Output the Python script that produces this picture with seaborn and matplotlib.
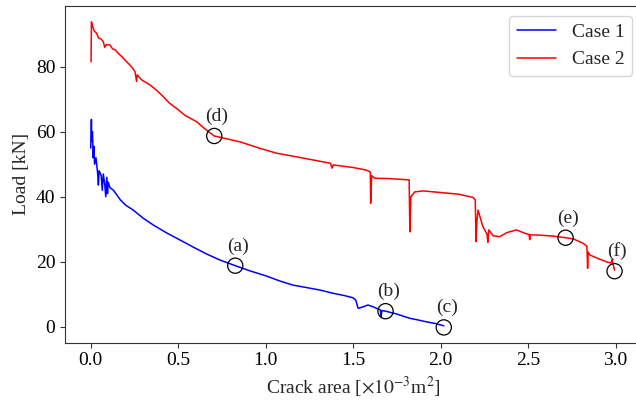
import matplotlib
matplotlib.use('Agg')
import matplotlib.pyplot as plt
import seaborn as sns

# data
case1_area = [0.000, 0.004, 0.006, 0.010, 0.014, 0.018, 0.022, 0.030, 0.040, 0.044, 0.048,
              0.060, 0.066, 0.072, 0.080, 0.086, 0.092, 0.096, 0.100, 0.110, 0.130, 0.170,
              0.200, 0.243, 0.300, 0.358, 0.430, 0.510, 0.590, 0.662, 0.740, 0.826, 0.910,
              1.005, 1.080, 1.157, 1.230, 1.310, 1.386, 1.450, 1.500, 1.515, 1.528, 1.550,
              1.585, 1.620, 1.655, 1.660, 1.664, 1.685, 1.750, 1.824, 1.870, 1.920, 1.970,
              2.018]
case1_load = [55.0, 63.8, 57.0, 60.0, 52.0, 55.5, 50.0, 52.0, 47.0, 43.6, 48.0,
              46.5, 42.0, 47.0, 44.0, 40.0, 46.0, 41.0, 44.5, 42.8, 42.0, 39.0,
              37.4, 35.9, 33.4, 31.3, 29.0, 26.7, 24.4, 22.4, 20.5, 18.8, 17.2,
              15.6, 14.1, 12.8, 12.1, 11.3, 10.3, 9.6, 8.9, 8.2, 5.7, 6.0,
              6.7, 6.0, 5.2, 3.1, 5.0, 4.8, 3.9, 2.6, 2.1, 1.5, 1.0,
              0.3]

case2_area = [0.002, 0.004, 0.012, 0.020, 0.034, 0.045, 0.060, 0.072, 0.080, 0.090, 0.110,
              0.125, 0.140, 0.158, 0.180, 0.206, 0.230, 0.240, 0.253, 0.262, 0.266, 0.290,
              0.339, 0.380, 0.415, 0.450, 0.490, 0.540, 0.605, 0.650, 0.706, 0.780, 0.853,
              0.967, 1.062, 1.195, 1.370, 1.380, 1.386, 1.500, 1.576, 1.598, 1.600, 1.606,
              1.624, 1.700, 1.820, 1.824, 1.830, 1.852, 1.900, 2.000, 2.100, 2.185, 2.198,
              2.202, 2.208, 2.214, 2.240, 2.265, 2.270, 2.275, 2.300, 2.337, 2.380, 2.433,
              2.480, 2.505, 2.509, 2.512, 2.560, 2.642, 2.714, 2.760, 2.813, 2.836, 2.840,
              2.843, 2.852, 2.900, 2.947, 2.975, 2.980, 2.985, 2.994]
case2_load = [81.5, 93.8, 92.3, 91.0, 90.3, 88.8, 88.5, 87.7, 86.0, 86.8, 86.7,
              85.5, 85.2, 84.1, 83.0, 81.5, 80.2, 79.5, 78.5, 75.5, 77.5, 76.0,
              74.4, 72.6, 70.8, 68.8, 67.2, 65.0, 63.1, 61.0, 58.7, 57.8, 56.9,
              54.9, 53.4, 52.1, 50.3, 48.8, 49.8, 49.0, 48.2, 47.6, 38.0, 46.5,
              45.7, 45.6, 45.2, 29.2, 40.0, 41.5, 41.8, 41.3, 40.8, 39.8, 39.0,
              26.2, 33.0, 35.9, 31.0, 28.5, 26.0, 29.8, 28.0, 27.7, 29.0, 29.8,
              28.8, 28.4, 26.8, 28.3, 28.2, 27.9, 27.4, 27.0, 25.7, 24.8, 18.0,
              23.0, 22.1, 21.0, 20.0, 19.6, 20.8, 19.3, 17.4]

# marked states (a)-(f)
mark_labels = ['(a)', '(b)', '(c)', '(d)', '(e)', '(f)']
mark_area = [0.826, 1.685, 2.018, 0.706, 2.714, 2.994]
mark_load = [18.8, 4.8, -0.2, 58.7, 27.4, 17.1]

sns.set_style('ticks')
plt.rcParams['font.family'] = ['Liberation Serif', 'DejaVu Serif']
plt.rcParams['mathtext.fontset'] = 'stix'
plt.rcParams['font.size'] = 14

fig = plt.figure(figsize=(6.36, 4.01), dpi=100)
ax = fig.add_axes([0.1022, 0.1454, 0.907, 0.8397])

sns.lineplot(x=case1_area, y=case1_load, color='blue', linewidth=1.1, label='Case 1',
             sort=False, estimator=None, ax=ax)
sns.lineplot(x=case2_area, y=case2_load, color='red', linewidth=1.1, label='Case 2',
             sort=False, estimator=None, ax=ax)

sns.scatterplot(x=mark_area, y=mark_load, marker='o', s=120, facecolor='none',
                edgecolor='black', linewidth=0.9, ax=ax, zorder=5)
for lab, xa, ya in zip(mark_labels, mark_area, mark_load):
    ax.annotate(lab, (xa, ya), xytext=(2, 8), textcoords='offset points',
                ha='center', va='bottom', fontsize=14)

ax.set_xlim(-0.147, 3.15)
ax.set_ylim(-4.9, 98.7)
ax.set_xticks([0.0, 0.5, 1.0, 1.5, 2.0, 2.5, 3.0])
ax.set_yticks([0, 20, 40, 60, 80])
ax.set_xlabel(r'Crack area [$\times10^{-3}$m$^2$]')
ax.set_ylabel('Load [kN]')
for s in ax.spines.values():
    s.set_color('#333333')
ax.tick_params(colors='#333333', labelcolor='black')

ax.legend(loc='upper right', fontsize=14)

plt.savefig('out.png', dpi=100)
